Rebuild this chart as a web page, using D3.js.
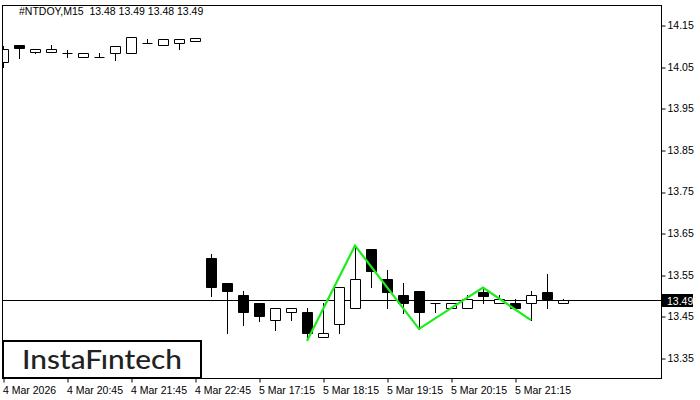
<!DOCTYPE html>
<html>
<head>
<meta charset="utf-8">
<script src="https://cdn.jsdelivr.net/npm/d3@7"></script>
<style>
  html, body { margin: 0; padding: 0; background: #ffffff; }
  svg { display: block; }
</style>
</head>
<body>
<div id="chart"></div>
<script>
// ---- data ----
const symbolTitle = "#NTDOY,M15  13.48 13.49 13.48 13.49";
const opens  = [14.061,14.102,14.084,14.084,14.082,14.074,14.072,14.082,14.083,14.106,14.101,14.106,14.111,
                13.590,13.530,13.501,13.482,13.441,13.460,13.460,13.400,13.431,13.469,13.612,13.540,13.501,
                13.511,13.483,13.469,13.469,13.509,13.481,13.481,13.481,13.509,13.481];
const highs  = [14.100,14.102,14.093,14.101,14.090,14.082,14.083,14.100,14.121,14.116,14.117,14.117,14.119,
                13.600,13.530,13.510,13.482,13.469,13.469,13.469,13.483,13.520,13.621,13.612,13.561,13.531,
                13.511,13.483,13.481,13.501,13.519,13.501,13.491,13.511,13.551,13.491];
const lows   = [14.049,14.071,14.083,14.084,14.072,14.074,14.072,14.066,14.082,14.106,14.101,14.093,14.111,
                13.500,13.409,13.429,13.440,13.417,13.441,13.393,13.400,13.409,13.469,13.520,13.469,13.459,
                13.420,13.460,13.469,13.469,13.481,13.481,13.469,13.441,13.469,13.481];
const closes = [14.092,14.094,14.092,14.092,14.082,14.082,14.072,14.099,14.120,14.106,14.117,14.117,14.119,
                13.520,13.510,13.460,13.450,13.469,13.469,13.409,13.409,13.520,13.539,13.560,13.509,13.481,
                13.460,13.483,13.481,13.491,13.500,13.491,13.469,13.501,13.491,13.490];
const priceTicks = [14.15,14.05,13.95,13.85,13.75,13.65,13.55,13.45,13.35];
const timeLabels = ["4 Mar 2026","4 Mar 20:45","4 Mar 21:45","4 Mar 22:45","5 Mar 17:15",
                    "5 Mar 18:15","5 Mar 19:15","5 Mar 20:15","5 Mar 21:15"];
const timeLabelIdx = [0,4,8,12,16,20,24,28,32];
const currentPrice = 13.49;
const patternIdx = [19,22,26,30,33];
const patternPrice = [13.391,13.620,13.420,13.519,13.441];
const logoText = "InstaF\u0131ntech";

// ---- layout ----
const W = 700, H = 400;
const plot = {left: 2, right: 661, top: 5, bottom: 378};
const font = "Liberation Sans, Arial, sans-serif";

const svg = d3.select("#chart").append("svg").attr("width", W).attr("height", H);

const x = d3.scaleLinear().domain([0, 41]).range([3, 3 + 16 * 41]);
const y = d3.scaleLinear().domain([13.35, 14.15]).range([358, 25]);
const crisp = v => Math.round(v) + 0.5;

svg.append("defs").append("clipPath").attr("id", "clip")
  .append("rect").attr("x", plot.left).attr("y", plot.top)
  .attr("width", plot.right - plot.left).attr("height", plot.bottom - plot.top);

const g = svg.append("g").attr("clip-path", "url(#clip)");

// current price line
g.append("line")
  .attr("x1", plot.left).attr("x2", plot.right)
  .attr("y1", crisp(y(currentPrice))).attr("y2", crisp(y(currentPrice)))
  .attr("stroke", "#000").attr("stroke-width", 1);

// candles
const idx = d3.range(opens.length);
const candles = g.selectAll("g.c").data(idx).join("g").attr("class", "c");
candles.append("line")
  .attr("x1", i => crisp(x(i))).attr("x2", i => crisp(x(i)))
  .attr("y1", i => Math.round(y(highs[i]))).attr("y2", i => Math.round(y(lows[i])) + 1)
  .attr("stroke", "#000").attr("stroke-width", 1);
candles.append("path")
  .attr("d", i => {
    const x0 = Math.round(x(i)) - 5 + 0.5, x1 = x0 + 10;
    const yt = Math.round(y(Math.max(opens[i], closes[i]))) + 0.5;
    const yb = Math.round(y(Math.min(opens[i], closes[i]))) + 0.5;
    if (yb - yt < 1) return `M${x0},${yt}H${x1}`;
    return `M${x0},${yt}H${x1}V${yb}H${x0}Z`;
  })
  .attr("fill", i => closes[i] < opens[i] ? "#000" : "#fff")
  .attr("stroke", "#000").attr("stroke-width", 1);

// pattern line
g.append("path")
  .datum(patternIdx.map((d, k) => [x(d), y(patternPrice[k])]))
  .attr("d", d3.line())
  .attr("fill", "none").attr("stroke", "#1aee1a").attr("stroke-width", 2.2)
  .attr("stroke-linejoin", "miter");

// frame
svg.append("rect")
  .attr("x", plot.left + 0.5).attr("y", plot.top + 0.5)
  .attr("width", plot.right - plot.left).attr("height", plot.bottom - plot.top)
  .attr("fill", "none").attr("stroke", "#000").attr("stroke-width", 1);

// right axis
const yAxis = d3.axisRight(y).tickValues(priceTicks).tickFormat(d3.format(".2f"))
  .tickSize(4).tickPadding(2);
const ya = svg.append("g").attr("transform", `translate(${plot.right + 0.5},0)`).call(yAxis);
ya.select(".domain").remove();
ya.selectAll("line").attr("stroke", "#000").attr("transform", d => `translate(0,${crisp(y(d)) - y(d)})`);
ya.selectAll("text").attr("font-family", font).attr("font-size", 10.5).attr("fill", "#000");

// current price label
const cy = crisp(y(currentPrice));
svg.append("rect").attr("x", plot.right + 1).attr("y", cy - 6.5).attr("width", 31).attr("height", 13).attr("fill", "#000");
svg.append("text").attr("x", plot.right + 6).attr("y", cy + 4)
  .attr("font-family", font).attr("font-size", 10.5).attr("fill", "#fff").text(d3.format(".2f")(currentPrice));

// bottom axis
const xAxis = d3.axisBottom(x).tickValues(timeLabelIdx)
  .tickFormat((d, k) => timeLabels[k]).tickSize(4).tickPadding(4);
const xa = svg.append("g").attr("transform", `translate(0.5,${plot.bottom + 0.5})`).call(xAxis);
xa.select(".domain").remove();
xa.selectAll("line").attr("stroke", "#000");
xa.selectAll("text").attr("font-family", font).attr("font-size", 10.5).attr("fill", "#000")
  .attr("text-anchor", "start").attr("dx", -1);

// title
svg.append("text").attr("x", 19).attr("y", 15)
  .attr("font-family", font).attr("font-size", 10.5).attr("fill", "#000")
  .attr("xml:space", "preserve").style("white-space", "pre").text(symbolTitle);

// logo
svg.append("rect").attr("x", 3).attr("y", 341).attr("width", 198).attr("height", 37)
  .attr("fill", "#fff").attr("stroke", "#000").attr("stroke-width", 2);
svg.append("text").attr("x", 102).attr("y", 369).attr("text-anchor", "middle")
  .attr("font-family", "Lato, Noto Sans, sans-serif").attr("font-size", 26).attr("font-weight", 500)
  .attr("fill", "#222").attr("textLength", 160).attr("lengthAdjust", "spacingAndGlyphs").text(logoText);
</script>
</body>
</html>
